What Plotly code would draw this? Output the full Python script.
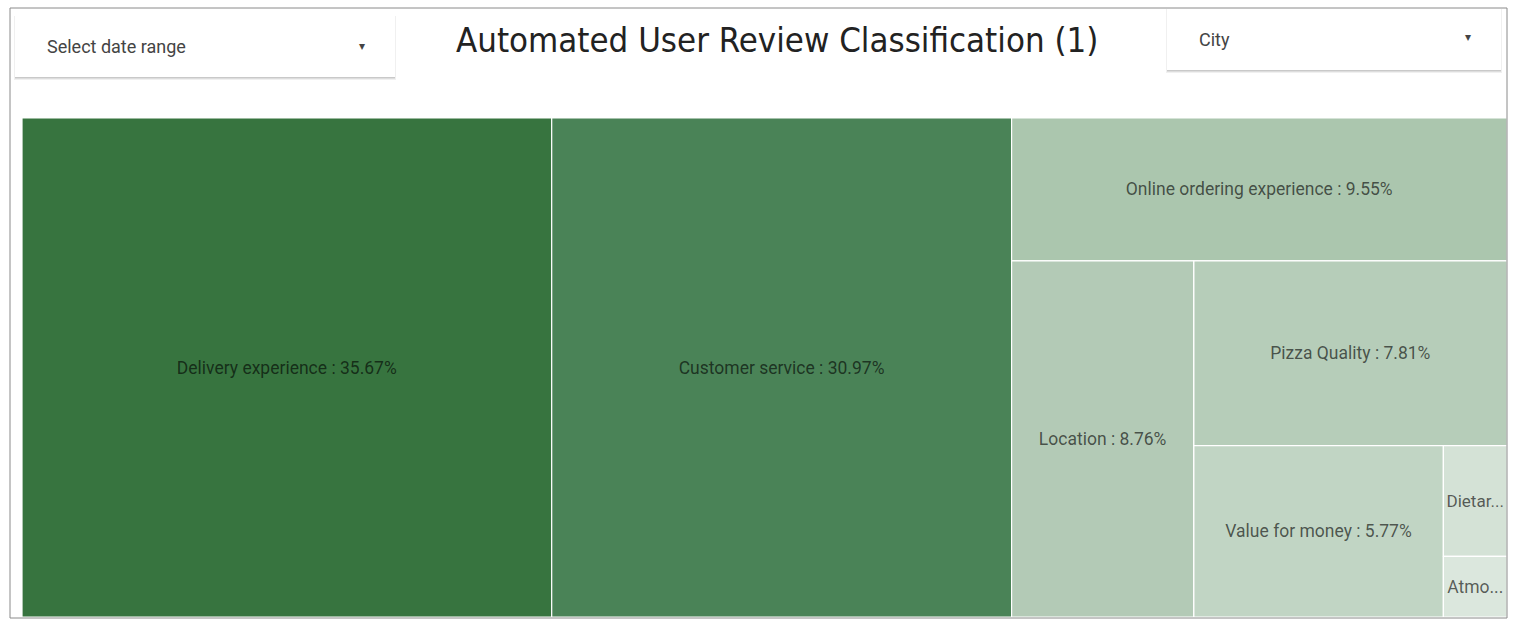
import plotly.graph_objects as go

W, H = 1514, 624

# ---- data ----
categories = ["Delivery experience", "Customer service", "Online ordering experience",
              "Location", "Pizza Quality", "Value for money", "Dietary options", "Atmosphere"]
shares = [35.67, 30.97, 9.55, 8.76, 7.81, 5.77, 0.95, 0.52]
tile_texts = ["Delivery experience : 35.67%", "Customer service : 30.97%",
              "Online ordering experience : 9.55%", "Location : 8.76%",
              "Pizza Quality : 7.81%", "Value for money : 5.77%", "Dietar...", "Atmo..."]
tile_colors = ["#37743f", "#4a8357", "#abc6ae", "#b3cab6", "#b6cdb9",
               "#c1d5c4", "#d4e2d6", "#dbe7dd"]
# layout groups (nested split levels, not drawn as separate tiles)
leaf_parents = ["", "", "g1", "g2", "g3", "g4", "g5", "g5"]
group_ids = ["g1", "g2", "g3", "g4", "g5"]
group_parents = ["", "g1", "g2", "g3", "g4"]

title_text = "Automated User Review Classification (1)"
control_labels = ["Select date range", "City"]

ids = categories + group_ids
labels = categories + ["" for _ in group_ids]
parents = leaf_parents + group_parents
values = shares + [0 for _ in group_ids]
texts = tile_texts + ["" for _ in group_ids]
colors = tile_colors + ["#ffffff" for _ in group_ids]


def px_x(v):
    return v / W


def px_y(v):
    return 1 - v / H


fig = go.Figure(go.Treemap(
    ids=ids, labels=labels, parents=parents, values=values,
    branchvalues="remainder", sort=False,
    text=texts, texttemplate="%{text}", textposition="middle center",
    textfont=dict(family="Roboto", size=17.5, color="rgba(0,0,0,0.62)"),
    marker=dict(colors=colors, line=dict(color="#ffffff", width=1.2),
                pad=dict(t=0, l=0, r=0, b=0)),
    tiling=dict(packing="slice-dice", pad=0),
    pathbar=dict(visible=False),
    hoverinfo="skip",
    domain=dict(x=[px_x(22), px_x(1507)], y=[px_y(617), px_y(118)]),
))

shapes = []
# outer frame
shapes.append(dict(type="rect", xref="paper", yref="paper",
                   x0=px_x(10), x1=px_x(1507), y0=px_y(618), y1=px_y(8),
                   line=dict(color="#8a8a8a", width=1), fillcolor="rgba(0,0,0,0)", layer="above"))
# dropdown controls with soft shadow
for (x0, y0, x1, y1) in [(15, 16, 395, 77), (1167, 9, 1501, 70)]:
    shapes.append(dict(type="rect", xref="paper", yref="paper",
                       x0=px_x(x0 - 1), x1=px_x(x1 + 1), y0=px_y(y1 + 3), y1=px_y(y0),
                       line=dict(width=0), fillcolor="rgba(0,0,0,0.06)", layer="above"))
    shapes.append(dict(type="rect", xref="paper", yref="paper",
                       x0=px_x(x0), x1=px_x(x1), y0=px_y(y1 + 1.5), y1=px_y(y0 + 1),
                       line=dict(width=0), fillcolor="rgba(0,0,0,0.16)", layer="above"))
    shapes.append(dict(type="rect", xref="paper", yref="paper",
                       x0=px_x(x0), x1=px_x(x1), y0=px_y(y1), y1=px_y(y0),
                       line=dict(width=0), fillcolor="#ffffff", layer="above"))

annotations = [
    dict(text=title_text, x=px_x(777), y=px_y(40), xref="paper", yref="paper",
         xanchor="center", yanchor="middle", showarrow=False,
         font=dict(family="DejaVu Sans Condensed", size=34.5, color="#222222")),
    dict(text=control_labels[0], x=px_x(45), y=px_y(47), xref="paper", yref="paper",
         xanchor="left", yanchor="middle", showarrow=False,
         font=dict(family="Roboto", size=18, color="#444444")),
    dict(text="▾", x=px_x(362), y=px_y(46), xref="paper", yref="paper",
         xanchor="center", yanchor="middle", showarrow=False,
         font=dict(family="DejaVu Sans", size=12, color="#444444")),
    dict(text=control_labels[1], x=px_x(1197), y=px_y(39), xref="paper", yref="paper",
         xanchor="left", yanchor="middle", showarrow=False,
         font=dict(family="Roboto", size=18, color="#444444")),
    dict(text="▾", x=px_x(1468), y=px_y(37), xref="paper", yref="paper",
         xanchor="center", yanchor="middle", showarrow=False,
         font=dict(family="DejaVu Sans", size=12, color="#444444")),
]

fig.update_layout(
    width=W, height=H, autosize=False,
    margin=dict(l=0, r=0, t=0, b=0),
    paper_bgcolor="#ffffff",
    shapes=shapes, annotations=annotations,
    showlegend=False,
)

fig.write_html("out.html")
